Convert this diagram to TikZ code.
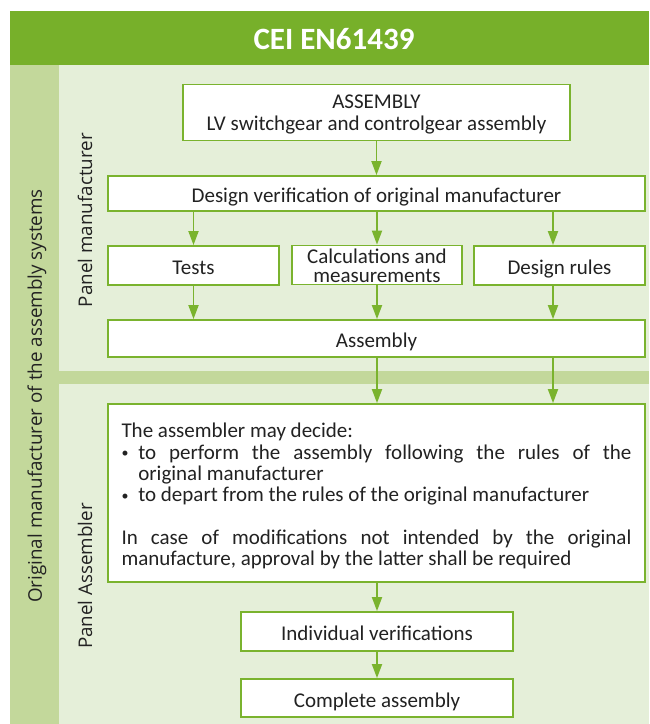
\documentclass[tikz,border=0pt]{standalone}
\usepackage{fontspec}
\setmainfont{Carlito}
\newfontfamily\sidefont{Open Sans}
\usetikzlibrary{arrows.meta,calc}
\definecolor{hdr}{HTML}{77B02A}
\definecolor{strip}{HTML}{C3D89B}
\definecolor{pane}{HTML}{E5EFD9}
\definecolor{edge}{HTML}{7AB32E}
\definecolor{ink}{HTML}{222222}
\newcommand{\bx}{\fontsize{21}{23}\selectfont}
\newcommand{\itm}[1]{\par\hangindent=0.8em\hangafter=1\noindent\makebox[0.8em][l]{\raisebox{1.5pt}{\fontsize{14}{14}\selectfont\textbullet}}#1}
\tikzset{
  box/.style={draw=edge,line width=1.8pt,fill=white,align=center,inner sep=2pt,font=\bx,text=ink},
  solo/.style={box,text height=22pt,text depth=4pt},
  ar/.style={-{Triangle[length=14pt,width=10pt]},line width=1.8pt,draw=edge},
  side/.style={rotate=90,font=\sidefont\fontsize{18.8}{20}\selectfont,text=ink},
}

\begin{document}
\begin{tikzpicture}[x=1pt,y=-1pt]
\useasboundingbox (0,0) rectangle (649,724);
% backgrounds
\fill[hdr] (10,11) rectangle (649,65);
\fill[strip] (10,65) rectangle (649,724);
\fill[pane] (59,65) rectangle (649,371);
\fill[pane] (59,384) rectangle (649,724);
\node[font=\bfseries\fontsize{31}{31}\selectfont,text=white] (title) at (334,39) {CEI EN61439};
% side labels
\node[side] (orig) at (37,396) {Original manufacturer of the assembly systems};
\node[side] (pm) at (85,220) {Panel manufacturer};
\node[side] (pa) at (85,576) {Panel Assembler};
% panel manufacturer boxes
\node[box,minimum width=387pt,minimum height=56pt,font=\fontsize{21}{22}\selectfont] (asm) at (376.5,112.5) {\rule{0pt}{17.5pt}ASSEMBLY\\LV switchgear and controlgear assembly};
\node[solo,minimum width=537pt,minimum height=35pt] (dv) at (376.5,193.5) {Design verification of original manufacturer};
\node[solo,minimum width=171pt,minimum height=39pt] (tests) at (193.5,265.5) {Tests};
\node[box,minimum width=170pt,minimum height=39pt,inner ysep=0pt,font=\fontsize{21}{19}\selectfont] (calc) at (377,265) {\rule{0pt}{17pt}Calculations and\\measurements};
\node[solo,minimum width=171pt,minimum height=39pt] (rules) at (559.5,265.5) {Design rules};
\node[solo,minimum width=537pt,minimum height=37pt] (asmb) at (376.5,338.5) {Assembly};
% panel assembler boxes
\node[box,text width=510pt,inner xsep=13.5pt,align=justify,minimum height=178pt,font=\fontsize{21}{21.3}\selectfont] (dec) at (376.5,493) {\rule{0pt}{21pt}The assembler may decide:\itm{to perform the assembly following the rules of the\linebreak original manufacturer}\itm{to depart from the rules of the original manufacturer}\par\vspace{21.3pt}\noindent In case of modifications not intended by the original\linebreak manufacture, approval by the latter shall be required};
\node[solo,minimum width=272pt,minimum height=39pt] (indiv) at (377,631.5) {Individual verifications};
\node[solo,minimum width=272pt,minimum height=38pt] (compl) at (377,698) {Complete assembly};
% arrows
\coordinate (rx) at ([xshift=-6.5pt]rules.north);
\draw[ar] (asm) -- (dv);
\draw[ar] (dv.south -| tests) -- (tests);
\draw[ar] (dv.south -| calc) -- (calc);
\draw[ar] (dv.south -| rx) -- (rx);
\draw[ar] (tests) -- (tests |- asmb.north);
\draw[ar] (calc) -- (calc |- asmb.north);
\draw[ar] (rx |- rules.south) -- (rx |- asmb.north);
\draw[ar] (asmb.south -| calc) -- (calc |- dec.north);
\draw[ar] (asmb.south -| rx) -- (rx |- dec.north);
\draw[ar] (dec.south -| indiv) -- (indiv);
\draw[ar] (indiv) -- (compl);
\end{tikzpicture}
\end{document}
